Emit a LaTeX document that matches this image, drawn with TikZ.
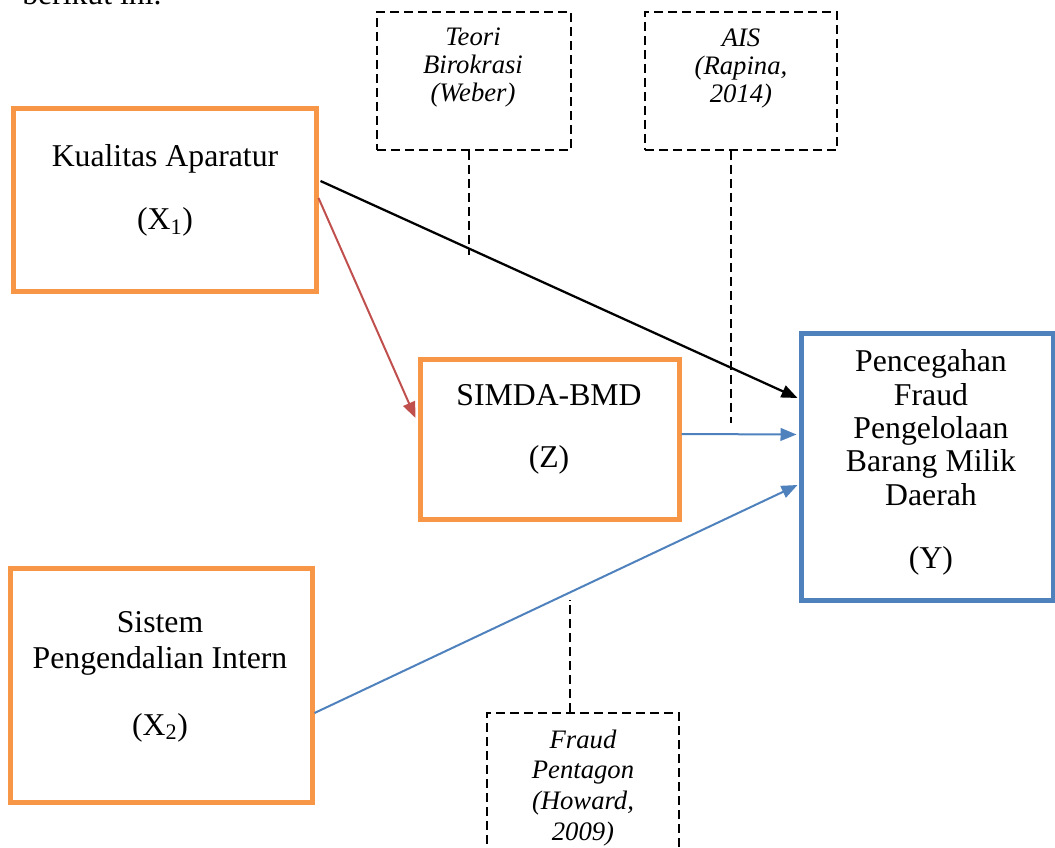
\documentclass[tikz,border=0pt]{standalone}
\usepackage{fontspec}
\setmainfont{Liberation Serif}
\usetikzlibrary{arrows.meta,calc}
\definecolor{orng}{HTML}{F79646}
\definecolor{blu}{HTML}{4F81BD}
\definecolor{rd}{HTML}{C0504D}
\begin{document}
\begin{tikzpicture}[x=0.75pt,y=-0.75pt,
  obox/.style={draw=orng,line width=3.75pt,inner sep=0pt},
  ybox/.style={draw=blu,line width=3.75pt,inner sep=0pt},
  theory/.style={draw=black,line width=1.35pt,dash pattern=on 6.5pt off 4pt,inner sep=0pt},
  dline/.style={line width=1.35pt,dash pattern=on 6.5pt off 4pt},
  lbl/.style={font=\fontsize{23.8}{27}\selectfont,align=center,inner sep=0pt,anchor=base},
  itl/.style={font=\fontsize{20}{21}\selectfont\itshape,align=center,inner sep=0pt,anchor=base},
  link/.style={line width=1.5pt,-{Triangle[length=12pt,width=9.5pt]}}
]
\useasboundingbox (0,0) rectangle (1055,848);

% text above
\node[font=\fontsize{23.8}{27}\selectfont,inner sep=0pt,anchor=base west] (intro) at (22,5) {berikut ini.};

% variable boxes
\node[obox,minimum width=226.9pt,minimum height=137.25pt] (x1) at (164.75,200.5) {};
\node[obox,minimum width=226.5pt,minimum height=175.5pt] (x2) at (161,685) {};
\node[obox,minimum width=194.25pt,minimum height=120pt] (z) at (549.5,439) {};
\node[ybox,minimum width=189pt,minimum height=200.25pt] (y) at (927,466.5) {};

% theory boxes
\node[theory,minimum width=145.5pt,minimum height=103.5pt] (teori) at (474,81) {};
\node[theory,minimum width=144pt,minimum height=103.5pt] (ais) at (741,81) {};
\node[theory,minimum width=144pt,minimum height=103.5pt] (fraud) at (583,782) {};

% labels (base anchor = baseline of last line)
\node[lbl] (x1a) at (165,167) {Kualitas Aparatur};
\node[lbl] (x1b) at (165,230) {(X\textsubscript{1})};
\node[lbl] (x2a) at (160,668) {Sistem\\Pengendalian Intern};
\node[lbl] (x2b) at (160,735) {(X\textsubscript{2})};
\node[lbl] (za) at (549,405) {SIMDA-BMD};
\node[lbl] (zb) at (549,467) {(Z)};
\node[lbl,font=\fontsize{23.8}{25}\selectfont] (ya) at (931,505) {Pencegahan\\Fraud\\Pengelolaan\\Barang Milik\\Daerah};
\node[lbl] (yb) at (931,568) {(Y)};
\node[itl] (teorit) at (473,102) {Teori\\Birokrasi\\(Weber)};
\node[itl] (aist) at (741,103) {AIS\\(Rapina,\\2014)};
\node[itl,font=\fontsize{20}{22.9}\selectfont\itshape] (fraudt) at (583,840) {Fraud\\Pentagon\\(Howard,\\2009)};

% dashed connectors
\coordinate (tend) at (469,255);
\coordinate (aend) at (731,423);
\coordinate (fend) at (570,600);
\draw[dline] (teori.south -| tend) -- (tend);
\draw[dline] (ais.south -| aend) -- (aend);
\draw[dline] (fraud.north -| fend) -- (fend);

% arrows
\draw[link,black,line width=1.7pt] ($(x1.east)+(2,-19.5)$) -- ($(y.west)+(-1,-68.5)$);
\draw[link,rd] ($(x1.east)+(0,-2.5)$) -- ($(z.west)+(-2,-21)$);
\draw[link,blu] ($(z.east)+(0,-5)$) -- ($(y.west)+(-2,-32)$);
\draw[link,blu] ($(x2.east)+(0,28)$) -- ($(y.west)+(-1,18.5)$);
\end{tikzpicture}
\end{document}
